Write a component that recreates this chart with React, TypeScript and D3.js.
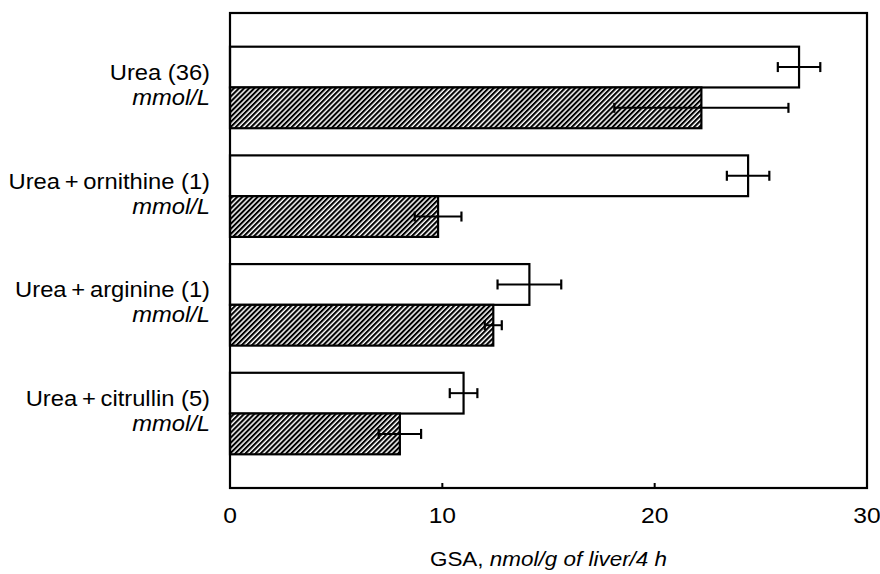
import React, { useEffect, useRef } from "react";
import * as d3 from "d3";

const categories = [
  "Urea (36)",
  "Urea\u2009+\u2009ornithine (1)",
  "Urea\u2009+\u2009arginine (1)",
  "Urea\u2009+\u2009citrullin (5)",
];
const unitLabel = "mmol/L";
const openValues = [26.8, 24.4, 14.1, 11.0];
const openErrors = [1.0, 1.0, 1.5, 0.65];
const hatchValues = [22.2, 9.8, 12.4, 8.0];
const hatchErrors = [4.1, 1.1, 0.4, 1.0];
const xTicks = [0, 10, 20, 30];

const W = 880;
const H = 574;
const margin = { top: 13, right: 13, bottom: 86, left: 230 };
const FONT = "'Liberation Sans', Arial, Helvetica, sans-serif";

const App = () => {
  const svgRef = useRef<SVGSVGElement | null>(null);

  useEffect(() => {
    const svg = d3.select(svgRef.current);
    svg.selectAll("*").remove();

    const x = d3
      .scaleLinear()
      .domain([0, 30])
      .range([margin.left, W - margin.right]);

    const y = d3
      .scaleBand<string>()
      .domain(categories)
      .range([margin.top, H - margin.bottom])
      .paddingInner(0.25)
      .paddingOuter(0.31);

    const defs = svg.append("defs");
    const pat = defs
      .append("pattern")
      .attr("id", "hatch")
      .attr("patternUnits", "userSpaceOnUse")
      .attr("width", 3.6)
      .attr("height", 3.6)
      .attr("patternTransform", "rotate(45)");
    pat.append("rect").attr("width", 3.6).attr("height", 3.6).attr("fill", "#fff");
    pat
      .append("rect")
      .attr("x", 0)
      .attr("y", 0)
      .attr("width", 2.1)
      .attr("height", 3.6)
      .attr("fill", "#000");

    const half = y.bandwidth() / 2;

    const rows = categories.map((c, i) => ({
      cat: c,
      open: openValues[i],
      openErr: openErrors[i],
      hatch: hatchValues[i],
      hatchErr: hatchErrors[i],
    }));

    // bars
    const g = svg.append("g");
    rows.forEach((d) => {
      const y0 = y(d.cat)!;
      g.append("rect")
        .attr("x", x(0))
        .attr("y", y0)
        .attr("width", x(d.open) - x(0))
        .attr("height", half)
        .attr("fill", "#fff")
        .attr("stroke", "#000")
        .attr("stroke-width", 2.2);
      g.append("rect")
        .attr("x", x(0))
        .attr("y", y0 + half)
        .attr("width", x(d.hatch) - x(0))
        .attr("height", half)
        .attr("fill", "url(#hatch)")
        .attr("stroke", "#000")
        .attr("stroke-width", 2.2);
    });

    // error bars
    const errBar = (cy: number, v: number, e: number) => {
      g.append("line")
        .attr("x1", x(v - e))
        .attr("x2", x(v + e))
        .attr("y1", cy)
        .attr("y2", cy)
        .attr("stroke", "#000")
        .attr("stroke-width", 2);
      [v - e, v + e].forEach((t) => {
        g.append("line")
          .attr("x1", x(t))
          .attr("x2", x(t))
          .attr("y1", cy - 5)
          .attr("y2", cy + 5)
          .attr("stroke", "#000")
          .attr("stroke-width", 2.2);
      });
    };
    rows.forEach((d) => {
      const y0 = y(d.cat)!;
      errBar(y0 + half / 2, d.open, d.openErr);
      errBar(y0 + half * 1.5, d.hatch, d.hatchErr);
    });

    // frame
    svg
      .append("rect")
      .attr("x", margin.left)
      .attr("y", margin.top)
      .attr("width", W - margin.left - margin.right)
      .attr("height", H - margin.top - margin.bottom)
      .attr("fill", "none")
      .attr("stroke", "#000")
      .attr("stroke-width", 2.2);

    // x axis ticks (inward)
    const bottom = H - margin.bottom;
    const ax = svg.append("g").attr("font-family", FONT);
    xTicks.forEach((t) => {
      ax.append("line")
        .attr("x1", x(t))
        .attr("x2", x(t))
        .attr("y1", bottom)
        .attr("y2", bottom - 5)
        .attr("stroke", "#000")
        .attr("stroke-width", 2);
      ax.append("text")
        .attr("transform", `translate(${x(t)},${bottom + 35}) scale(1.12,1)`)
        .attr("text-anchor", "middle")
        .attr("font-size", 22)
        .text(t);
    });

    const title = ax
      .append("text")
      .attr(
        "transform",
        `translate(${(margin.left + W - margin.right) / 2},566) scale(1.07,1)`
      )
      .attr("text-anchor", "middle")
      .attr("font-size", 21);
    title.append("tspan").text("GSA, ");
    title.append("tspan").attr("font-style", "italic").text("nmol/g of liver/4 h");

    // category labels
    const lab = svg.append("g").attr("font-family", FONT).attr("font-size", 22);
    rows.forEach((d) => {
      const cy = y(d.cat)! + half;
      lab
        .append("text")
        .attr("transform", `translate(210,${cy - 7.5}) scale(1.08,1)`)
        .attr("text-anchor", "end")
        .text(d.cat);
      lab
        .append("text")
        .attr("transform", `translate(210,${cy + 17.5}) scale(1.08,1)`)
        .attr("text-anchor", "end")
        .attr("font-style", "italic")
        .text(unitLabel);
    });
  }, []);

  return (
    <svg
      ref={svgRef}
      width={W}
      height={H}
      style={{ position: "absolute", left: 0, top: 0, background: "#fff" }}
    />
  );
};

export default App;
